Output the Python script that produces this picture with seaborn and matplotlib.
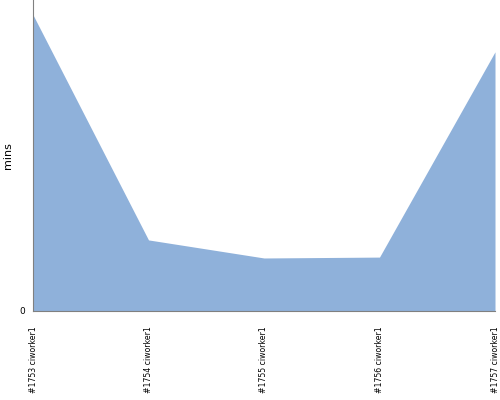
import pandas as pd
import seaborn as sns
import matplotlib.pyplot as plt

builds = ["#1753 ciworker1", "#1754 ciworker1", "#1755 ciworker1",
          "#1756 ciworker1", "#1757 ciworker1"]
mins = [10.0, 2.4, 1.79, 1.82, 8.75]

df = pd.DataFrame({"build": builds, "mins": mins, "pos": range(len(builds))})

sns.set_style("white")
plt.rcParams['font.family'] = ['DejaVu Sans']

fig = plt.figure(figsize=(5, 4), dpi=100)
ax = fig.add_axes([0.066, 0.2225, 0.924, 0.7775])

color = "#8FB1DA"
sns.lineplot(data=df, x="pos", y="mins", color=color, linewidth=0, ax=ax)
ax.fill_between(df["pos"], df["mins"], color=color, linewidth=0)

ax.set_xlim(0, len(builds) - 1)
ax.set_ylim(0, 10.5)
ax.set_xticks(df["pos"])
ax.set_xticklabels(builds, rotation=90, fontsize=5.6, va="top", color="black")
ax.set_yticks([0])
ax.set_yticklabels(["0"], fontsize=6.5, color="black")
ax.set_xlabel("")
ax.set_ylabel("mins", fontsize=8, color="black")

for side in ["top", "right"]:
    ax.spines[side].set_visible(False)
for side in ["left", "bottom"]:
    ax.spines[side].set_color("#808080")
    ax.spines[side].set_linewidth(0.8)
ax.tick_params(axis="y", length=4, color="#808080", pad=2)
ax.tick_params(axis="x", length=0, pad=11)

fig.savefig("out.png", dpi=100)
